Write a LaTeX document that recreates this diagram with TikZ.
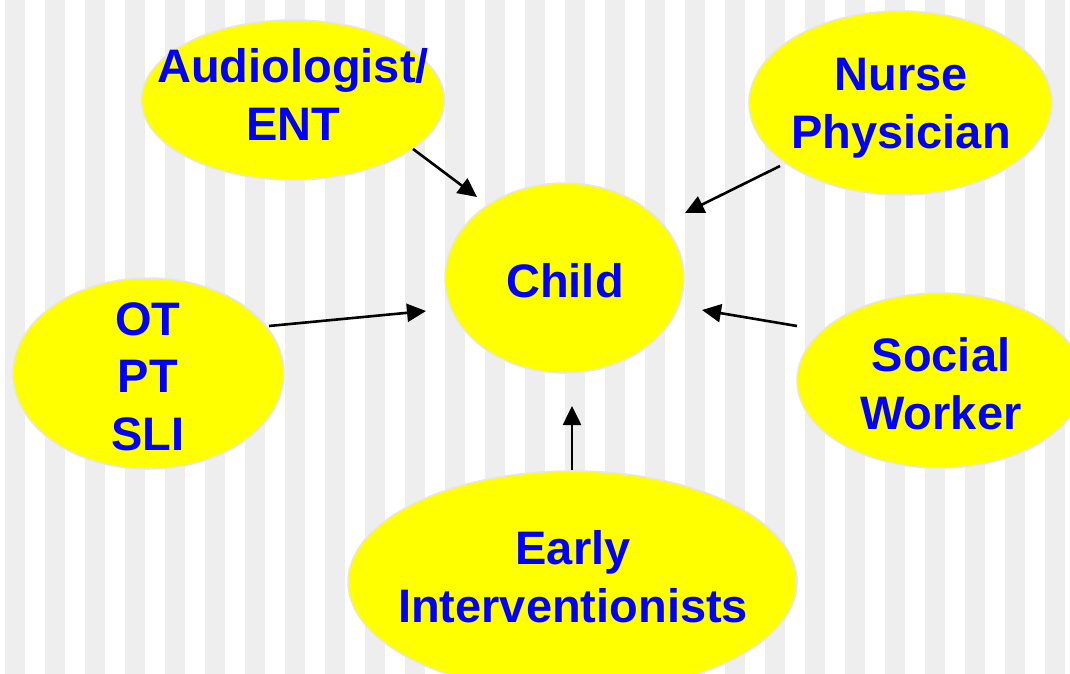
\documentclass[tikz,border=0pt]{standalone}
\usepackage{fontspec}
\setmainfont{Liberation Sans}
\usetikzlibrary{shapes.geometric,arrows.meta}
\definecolor{stripegray}{HTML}{EEEEEE}
\definecolor{ovalyellow}{HTML}{FFFF00}
\definecolor{ovaledge}{HTML}{E6E6E6}
\definecolor{txtblue}{HTML}{0000FF}
\tikzset{
  oval/.style={ellipse, fill=ovalyellow, draw=ovaledge, line width=1.5pt, inner sep=0pt},
  lbl/.style={text=txtblue, font=\fontsize{47}{57.5}\selectfont\bfseries, align=center, anchor=base, inner sep=0pt},
  arr/.style={line width=2.6pt, -{Triangle[length=19pt,width=18pt]}}
}
\begin{document}
\begin{tikzpicture}[x=1pt,y=-1pt]
\useasboundingbox (0,0) rectangle (1070,674);
\clip (0,0) rectangle (1070,674);
\fill[white] (0,0) rectangle (1070,674);
\foreach \i in {0,...,26} \fill[stripegray] ({5+40*\i},0) rectangle ({25+40*\i},674);

\node[oval, minimum width=303pt, minimum height=160pt] (aud) at (293,100) {};
\node[oval, minimum width=303pt, minimum height=184pt] (nurse) at (900.5,103) {};
\node[oval, minimum width=239pt, minimum height=190pt] (child) at (564.5,278) {};
\node[oval, minimum width=271pt, minimum height=191pt] (ot) at (148.5,373.5) {};
\node[oval, minimum width=286pt, minimum height=175pt] (social) at (940,380.5) {};
\node[oval, minimum width=449pt, minimum height=222pt] (early) at (572.5,582) {};

\node[lbl] (audt) at (293,140) {Audiologist/\\ENT};
\node[lbl] (nurset) at (901,148) {Nurse\\Physician};
\node[lbl] (childt) at (565,297) {Child};
\node[lbl] (ott) at (148,450) {OT\\PT\\SLI};
\node[lbl] (socialt) at (941,429) {Social\\Worker};
\node[lbl] (earlyt) at (573,622) {Early\\Interventionists};

\coordinate (a1s) at (413,149);
\coordinate (a1e) at (477,197);
\coordinate (a2s) at (780,166);
\coordinate (a2e) at (685,213);
\coordinate (a3s) at (269,326);
\coordinate (a3e) at (426,311);
\coordinate (a4s) at (797,326);
\coordinate (a4e) at (702,310);
\coordinate (a5s) at (572,470);
\coordinate (a5e) at (572,406);

\draw[arr] (a1s) -- (a1e);
\draw[arr] (a2s) -- (a2e);
\draw[arr] (a3s) -- (a3e);
\draw[arr] (a4s) -- (a4e);
\draw[arr] (a5s) -- (a5e);
\end{tikzpicture}
\end{document}
